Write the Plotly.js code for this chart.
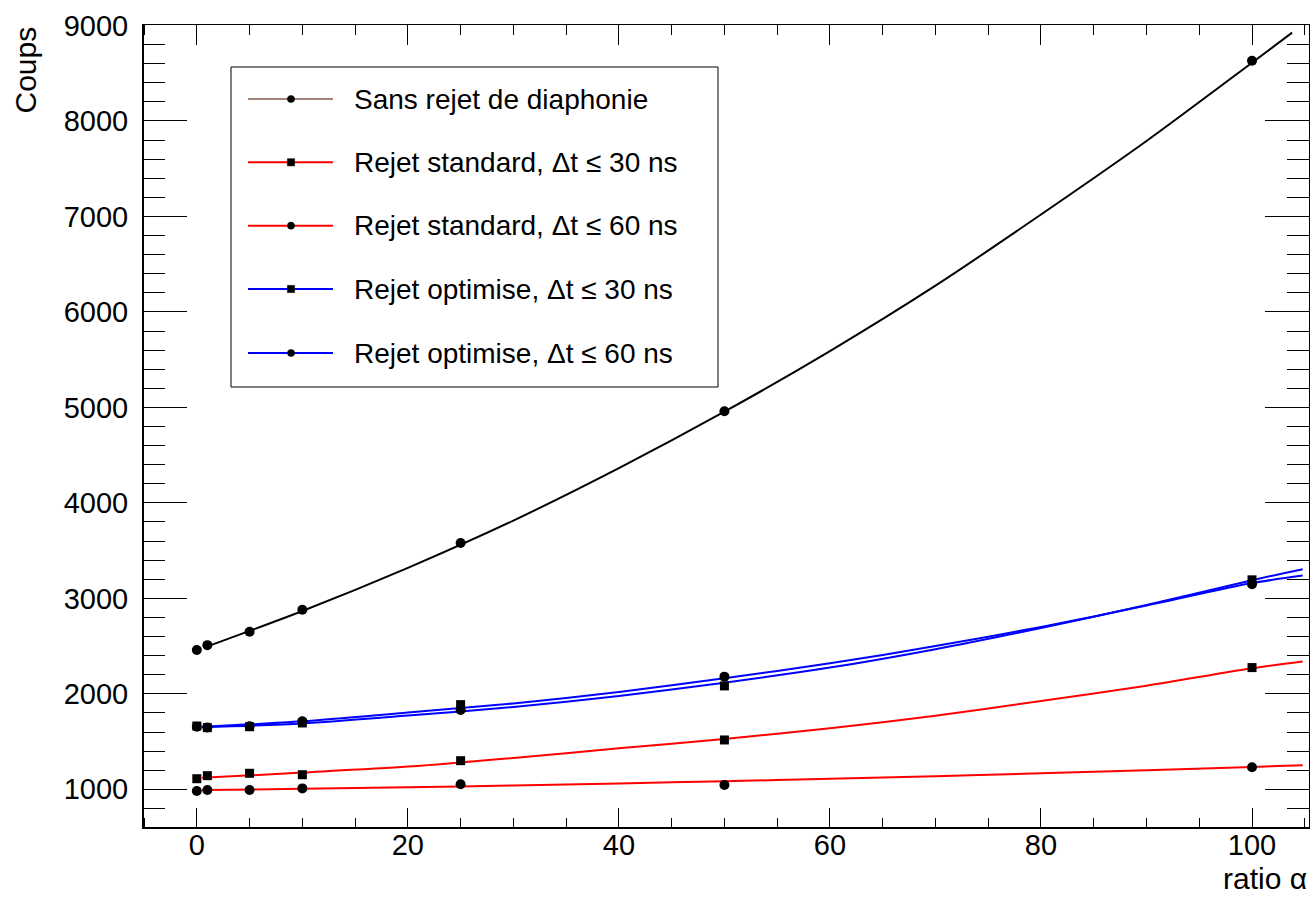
<!DOCTYPE html>
<html>
<head>
<meta charset="utf-8">
<script src="https://cdn.plot.ly/plotly-3.0.1.min.js"></script>
<style>
  html, body { margin: 0; padding: 0; background: #fff; }
  #chart { width: 1311px; height: 899px; }
</style>
</head>
<body>
<div id="chart"></div>
<script>
// ---- Data ----
const ratioPts = [0, 1, 5, 10, 25, 50, 100];
const sansRejet = [2460, 2510, 2650, 2880, 3580, 4960, 8630];
const std30 = [1111, 1143, 1168, 1153, 1300, 1517, 2275];
const std60 = [982, 993, 993, 1010, 1054, 1045, 1231];
const opt30 = [1663, 1646, 1656, 1695, 1887, 2083, 3194];
const opt60 = [1655, 1648, 1660, 1712, 1831, 2180, 3149];

// fitted curves
const fitXSans = [1.2, 10, 20, 30, 40, 50, 60, 70, 80, 90, 100, 103.8];
const fitSans = [2505, 2868, 3320, 3815, 4364, 4955, 5590, 6275, 7020, 7790, 8610, 8925];
const fitX = [0.5, 10, 20, 30, 40, 50, 60, 70, 80, 90, 100, 104.8];
const fitStd30 = [1120, 1175, 1238, 1328, 1429, 1527, 1640, 1770, 1925, 2085, 2268, 2338];
const fitStd60 = [993, 1005, 1022, 1040, 1062, 1085, 1110, 1137, 1168, 1200, 1235, 1252];
const fitOpt30 = [1650, 1690, 1772, 1862, 1978, 2117, 2275, 2468, 2690, 2930, 3190, 3306];
const fitOpt60 = [1655, 1712, 1805, 1900, 2020, 2163, 2320, 2500, 2700, 2925, 3160, 3239];

const seriesNames = [
  "Sans rejet de diaphonie",
  "Rejet standard, \u0394t \u2264 30 ns",
  "Rejet standard, \u0394t \u2264 60 ns",
  "Rejet optimise, \u0394t \u2264 30 ns",
  "Rejet optimise, \u0394t \u2264 60 ns"
];
const seriesLineColors = ["#000000", "#ff0000", "#ff0000", "#0000ff", "#0000ff"];
const legendLineColors = ["#a08278", "#ff0000", "#ff0000", "#0000ff", "#0000ff"];
const seriesSymbols = ["circle", "square", "circle", "square", "circle"];
const xAxisTitle = "ratio \u03b1";
const yAxisTitle = "Coups";

// ---- Layout geometry (pixels) ----
const W = 1311, H = 899;
const L = 143, R = 1309, T = 25, B = 828;
const px2x = p => (p - L) / (R - L);
const py2y = p => (B - p) / (B - T);

const FONT = "Liberation Sans, Arial, Helvetica, sans-serif";

const fitXs = [fitXSans, fitX, fitX, fitX, fitX];
const fitYs = [fitSans, fitStd30, fitStd60, fitOpt30, fitOpt60];
const ptYs = [sansRejet, std30, std60, opt30, opt60];

const traces = [];
for (let i = 0; i < 5; i++) {
  traces.push({
    type: "scatter", mode: "lines", name: seriesNames[i] + " (fit)",
    x: fitXs[i], y: fitYs[i],
    line: { color: seriesLineColors[i], width: 2, shape: "spline", smoothing: 0.8 },
    showlegend: false, hoverinfo: "skip"
  });
}
for (let i = 0; i < 5; i++) {
  traces.push({
    type: "scatter", mode: "markers", name: seriesNames[i],
    x: ratioPts, y: ptYs[i],
    marker: { color: "#000", symbol: seriesSymbols[i], size: seriesSymbols[i] === "square" ? 9 : 10 },
    showlegend: false
  });
}

// ---- Manual ROOT-style legend ----
const legRowY = [99, 162.3, 225.7, 289, 353];
const shapes = [];
const annotations = [];
// thicker left and bottom frame lines (ROOT style)
shapes.push({ type: "line", xref: "paper", yref: "paper", x0: 0, x1: 0, y0: 0, y1: 1,
  line: { color: "#000", width: 2 }, layer: "above" });
shapes.push({ type: "line", xref: "paper", yref: "paper", x0: 0, x1: 1, y0: 0, y1: 0,
  line: { color: "#000", width: 2 }, layer: "above" });
shapes.push({
  type: "rect", xref: "paper", yref: "paper",
  x0: px2x(231), x1: px2x(718), y0: py2y(387), y1: py2y(67),
  line: { color: "#000", width: 1 }, fillcolor: "#fff", layer: "above"
});
for (let i = 0; i < 5; i++) {
  const yc = legRowY[i];
  shapes.push({
    type: "line", xref: "paper", yref: "paper",
    x0: px2x(248), x1: px2x(333), y0: py2y(yc), y1: py2y(yc),
    line: { color: legendLineColors[i], width: 2 }, layer: "above"
  });
  const r = 3.6;
  shapes.push({
    type: seriesSymbols[i] === "square" ? "rect" : "circle",
    xref: "paper", yref: "paper",
    x0: px2x(291 - r), x1: px2x(291 + r), y0: py2y(yc + r), y1: py2y(yc - r),
    line: { color: "#000", width: 0.5 }, fillcolor: "#000", layer: "above"
  });
  annotations.push({
    xref: "paper", yref: "paper", x: px2x(352), y: py2y(yc),
    xanchor: "left", yanchor: "middle", showarrow: false,
    text: seriesNames[i], font: { family: FONT, size: 28, color: "#000" }
  });
}
// axis titles (ROOT style, at the axis ends)
annotations.push({
  xref: "paper", yref: "paper", x: 1, y: py2y(878),
  xanchor: "right", yanchor: "middle", showarrow: false,
  text: xAxisTitle, font: { family: FONT, size: 30, color: "#000" }
});
annotations.push({
  xref: "paper", yref: "paper", x: px2x(25), y: 1,
  xanchor: "center", yanchor: "top", showarrow: false, textangle: -90,
  text: yAxisTitle, font: { family: FONT, size: 30, color: "#000" }
});

const layout = {
  width: W, height: H,
  margin: { l: L, r: W - R, t: T, b: H - B, pad: 0 },
  paper_bgcolor: "#fff", plot_bgcolor: "#fff",
  showlegend: false,
  font: { family: FONT, color: "#000" },
  xaxis: {
    range: [-5.1, 105.4], tickmode: "linear", tick0: 0, dtick: 20,
    ticks: "inside", ticklen: 20, tickwidth: 1, tickcolor: "#000",
    minor: { dtick: 5, ticks: "inside", ticklen: 10, tickwidth: 1, tickcolor: "#000" },
    showline: true, linecolor: "#000", linewidth: 1, mirror: "ticks",
    showgrid: false, zeroline: false,
    tickfont: { family: FONT, size: 29, color: "#000" },
    ticklabelstandoff: -9
  },
  yaxis: {
    range: [595, 9005], tickmode: "linear", tick0: 0, dtick: 1000,
    ticks: "inside", ticklen: 44, tickwidth: 1, tickcolor: "#000",
    minor: { dtick: 200, ticks: "inside", ticklen: 22, tickwidth: 1, tickcolor: "#000" },
    showline: true, linecolor: "#000", linewidth: 1, mirror: "ticks",
    showgrid: false, zeroline: false,
    tickfont: { family: FONT, size: 29, color: "#000" },
    ticklabelstandoff: 8
  },
  shapes: shapes,
  annotations: annotations
};

Plotly.newPlot("chart", traces, layout, { displayModeBar: false, staticPlot: true });
</script>
</body>
</html>
